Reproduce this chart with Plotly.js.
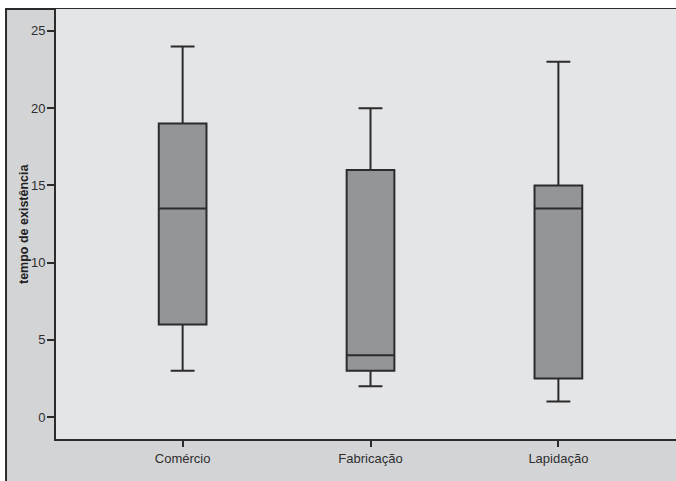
<!DOCTYPE html>
<html>
<head>
<meta charset="utf-8">
<script src="https://cdn.plot.ly/plotly-3.0.1.min.js"></script>
<style>html,body{margin:0;padding:0;background:#fff;}</style>
</head>
<body>
<div id="chart" style="width:676px;height:481px;"></div>
<script>
var categories = ['Comércio', 'Fabricação', 'Lapidação'];
var lowerWhisker = [3, 2, 1];
var q1Values = [6, 3, 2.5];
var medianValues = [13.5, 4, 13.5];
var q3Values = [19, 16, 15];
var upperWhisker = [24, 20, 23];
var yTicks = [0, 5, 10, 15, 20, 25];
var yTitle = 'tempo de existência';

var trace = {
  type: 'box',
  x: categories,
  q1: q1Values,
  median: medianValues,
  q3: q3Values,
  lowerfence: lowerWhisker,
  upperfence: upperWhisker,
  boxpoints: false,
  width: 0.254,
  whiskerwidth: 0.5,
  fillcolor: '#939598',
  line: {color: '#2b2b2b', width: 2},
  hoverinfo: 'none',
  showlegend: false
};

var layout = {
  width: 676,
  height: 481,
  margin: {l: 56, r: 0, t: 9, b: 42},
  paper_bgcolor: '#ffffff',
  plot_bgcolor: 'rgba(0,0,0,0)',
  font: {family: 'Liberation Sans, Arial, sans-serif', color: '#2e2e2e', size: 12},
  xaxis: {
    type: 'category',
    range: [-0.674, 2.626],
    showgrid: false,
    zeroline: false,
    showline: true,
    linecolor: '#2b2b2b',
    linewidth: 2,
    ticks: 'outside',
    ticklen: 6,
    tickwidth: 2,
    tickcolor: '#2b2b2b',
    tickfont: {size: 13, color: '#2e2e2e'}
  },
  yaxis: {
    range: [-1.42, 26.42],
    tickvals: yTicks,
    showgrid: false,
    zeroline: false,
    showline: true,
    linecolor: '#2b2b2b',
    linewidth: 2,
    ticks: 'outside',
    ticklen: 7,
    tickwidth: 2,
    tickcolor: '#2b2b2b',
    ticklabelstandoff: -1,
    tickfont: {size: 13, color: '#2e2e2e'}
  },
  annotations: [
    {text: '<b>' + yTitle + '</b>', xref: 'paper', yref: 'paper', x: -0.0516, y: 0.5,
     xanchor: 'center', yanchor: 'middle', textangle: -90, showarrow: false,
     font: {size: 12.5, color: '#222222'}}
  ],
  shapes: [
    {type: 'rect', xref: 'paper', yref: 'paper', x0: -0.0806, x1: 1.2, y0: -0.3, y1: 1,
     fillcolor: '#d3d4d6', line: {color: '#2b2b2b', width: 2}, layer: 'below'},
    {type: 'rect', xref: 'paper', yref: 'paper', x0: 0, x1: 1.2, y0: 0, y1: 1,
     fillcolor: '#e4e5e7', line: {width: 0}, layer: 'below'}
  ]
};

Plotly.newPlot('chart', [trace], layout, {displayModeBar: false, staticPlot: true});
</script>
</body>
</html>
